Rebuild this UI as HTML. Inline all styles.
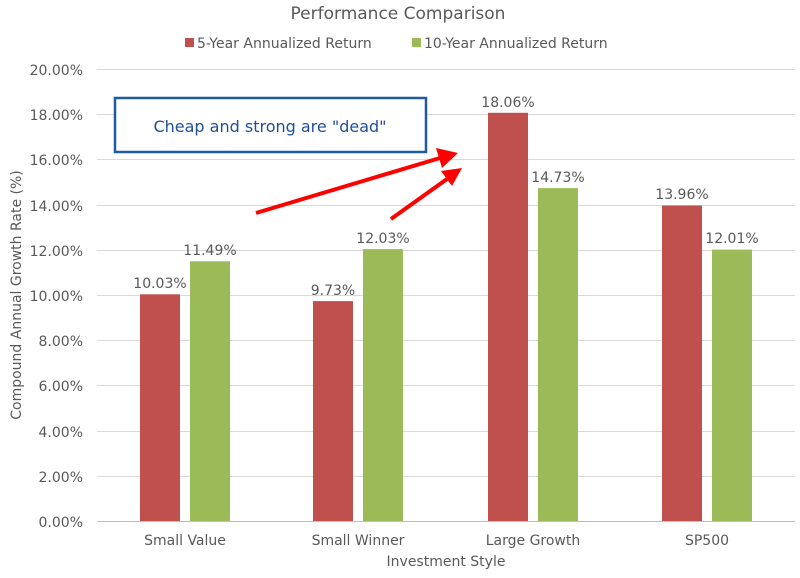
<!DOCTYPE html>
<html><head><style>body{margin:0;background:#fff}svg{display:block}text{font-family:"DejaVu Sans","Liberation Sans",sans-serif;fill:#595959}</style></head>
<body>
<svg width="800" height="578" viewBox="0 0 800 578" xmlns="http://www.w3.org/2000/svg">
<rect width="800" height="578" fill="#fff"/>
<text x="398" y="19" font-size="17" text-anchor="middle">Performance Comparison</text>
<rect x="185" y="38" width="9" height="9" fill="#C0504D"/>
<text x="197" y="48" font-size="14">5-Year Annualized Return</text>
<rect x="412" y="38" width="9" height="9" fill="#9BBB59"/>
<text x="424" y="48" font-size="14">10-Year Annualized Return</text>
<g stroke="#d9d9d9" stroke-width="1">
<line x1="97" x2="795" y1="69.5" y2="69.5"/><line x1="97" x2="795" y1="114.5" y2="114.5"/><line x1="97" x2="795" y1="159.5" y2="159.5"/><line x1="97" x2="795" y1="205.5" y2="205.5"/><line x1="97" x2="795" y1="250.5" y2="250.5"/><line x1="97" x2="795" y1="295.5" y2="295.5"/><line x1="97" x2="795" y1="340.5" y2="340.5"/><line x1="97" x2="795" y1="385.5" y2="385.5"/><line x1="97" x2="795" y1="431.5" y2="431.5"/><line x1="97" x2="795" y1="476.5" y2="476.5"/>
</g>
<line x1="97" x2="795" y1="521.5" y2="521.5" stroke="#bfbfbf"/>
<g font-size="14" text-anchor="end">
<text x="83" y="75">20.00%</text><text x="83" y="120">18.00%</text><text x="83" y="165">16.00%</text><text x="83" y="211">14.00%</text><text x="83" y="256">12.00%</text><text x="83" y="301">10.00%</text><text x="83" y="346">8.00%</text><text x="83" y="391">6.00%</text><text x="83" y="437">4.00%</text><text x="83" y="482">2.00%</text><text x="83" y="527">0.00%</text>
</g>
<g fill="#C0504D">
<rect x="140" y="294.3" width="40" height="226.7"/>
<rect x="313" y="301.1" width="40" height="219.9"/>
<rect x="488" y="112.8" width="40" height="408.2"/>
<rect x="662" y="205.5" width="40" height="315.5"/>
</g>
<g fill="#9BBB59">
<rect x="190" y="261.3" width="40" height="259.7"/>
<rect x="363" y="249.1" width="40" height="271.9"/>
<rect x="538" y="188.1" width="40" height="332.9"/>
<rect x="712" y="249.6" width="40" height="271.4"/>
</g>
<g font-size="14" text-anchor="middle">
<text x="160" y="288">10.03%</text><text x="210" y="255">11.49%</text>
<text x="333" y="295">9.73%</text><text x="383" y="243">12.03%</text>
<text x="508" y="107">18.06%</text><text x="558" y="182">14.73%</text>
<text x="682" y="199">13.96%</text><text x="732" y="243">12.01%</text>
</g>
<g font-size="14" text-anchor="middle">
<text x="185" y="545">Small Value</text><text x="358" y="545">Small Winner</text><text x="533" y="545">Large Growth</text><text x="707" y="545">SP500</text>
<text x="446" y="566">Investment Style</text>
<text transform="translate(21,295) rotate(-90)">Compound Annual Growth Rate (%)</text>
</g>
<rect x="115" y="98" width="311" height="54" fill="#fff" stroke="#1F5C9E" stroke-width="2.5"/>
<text x="270" y="132" font-size="16" text-anchor="middle" style="font-family:'Comic Sans MS','DejaVu Sans',sans-serif;fill:#1F4E9A">Cheap and strong are "dead"</text>
<g stroke="#FF0000" stroke-width="4" fill="#FF0000">
<line x1="256" y1="213" x2="440" y2="158"/>
<polygon points="458,153 436,148 442,168" stroke="none"/>
<line x1="391" y1="219" x2="447" y2="179"/>
<polygon points="462,168 441,171 452,186" stroke="none"/>
</g>
</svg>
</body></html>
